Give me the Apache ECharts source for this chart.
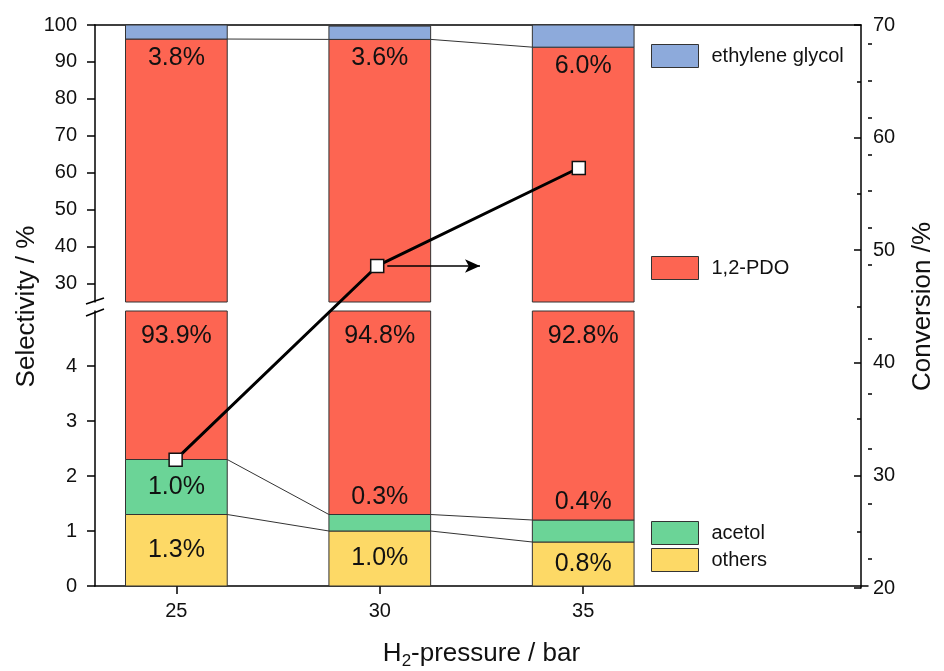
<!DOCTYPE html>
<html><head><meta charset="utf-8">
<script src="https://cdn.jsdelivr.net/npm/echarts@6/dist/echarts.min.js"></script>
<style>html,body{margin:0;padding:0;background:#fff}#c{width:944px;height:671px}</style>
</head><body><div id="c"></div>
<script>
// ---- data ----
const pressures = [25, 30, 35];
const others = [1.3, 1.0, 0.8];
const acetol = [1.0, 0.3, 0.4];
const pdo = [93.9, 94.8, 92.8];
const eg = [3.8, 3.6, 6.0];
const conversion = [31.4, 48.6, 57.3];
const upperTicks = [30, 40, 50, 60, 70, 80, 90, 100];
const upperMinor = [35, 45, 55, 65, 75, 85, 95];
const lowerTicks = [0, 1, 2, 3, 4];
const lowerMinor = [0.5, 1.5, 2.5, 3.5, 4.5];
const xTicks = [25, 30, 35];
const arrowFrom = [30.25, 48.6];
const arrowTo = [32.55, 48.6];

// ---- layout / style ----
const FONT = 'Liberation Sans, Arial, sans-serif';
const L = 95, R = 868, TOP = 25, BOT = 588, UPPER_BOT = 302, LOWER_TOP = 311;
const W = R - L;
const BAR_UNITS = 2.5;
const C = { eg: '#8DAADB', pdo: '#FD6552', acetol: '#6BD497', others: '#FDD966' };

// stacked segments built from the data arrays
const cum0 = pressures.map(() => 0);
const cum1 = others.map((v) => v);
const cum2 = others.map((v, i) => v + acetol[i]);
const cum3 = cum2.map((v, i) => v + pdo[i]);
const cum4 = cum3.map((v, i) => v + eg[i]);
const seg = (lo, hi, vals) => pressures.map((p, i) => [p, lo[i], hi[i], vals[i]]);
const pairs = (vals) => pressures.slice(0, -1).map((p, i) => [p, vals[i], pressures[i + 1], vals[i + 1]]);

function segmentRenderer(color, labelPos) {
  return function (params, api) {
    const x = api.value(0), b = api.value(1), t = api.value(2), v = api.value(3);
    const cs = params.coordSys;
    const w = api.size([BAR_UNITS, 0])[0];
    const p0 = api.coord([x, b]), p1 = api.coord([x, t]);
    const yTop = Math.max(Math.min(p0[1], p1[1]), cs.y);
    const yBot = Math.min(Math.max(p0[1], p1[1]), cs.y + cs.height);
    if (yBot - yTop <= 0) return null;
    const el = { type: 'rect', shape: { x: p0[0] - w / 2, y: yTop, width: w, height: yBot - yTop },
      style: { fill: color, stroke: '#333', lineWidth: 1 } };
    const lp = labelPos && labelPos[params.dataIndex];
    if (lp) {
      el.textContent = { style: { text: v.toFixed(1) + '%', fill: '#111', fontSize: 25, fontFamily: FONT } };
      el.textConfig = { position: lp[0], distance: lp[1] };
    }
    return el;
  };
}

function segSeries(name, data, color, xi, yi, labelPos) {
  return { type: 'custom', name, xAxisIndex: xi, yAxisIndex: yi, silent: true,
    itemStyle: { color }, encode: { x: 0, y: [1, 2] },
    renderItem: segmentRenderer(color, labelPos), data };
}

function connector(params, api) {
  const w = api.size([BAR_UNITS, 0])[0];
  const p1 = api.coord([api.value(0), api.value(1)]);
  const p2 = api.coord([api.value(2), api.value(3)]);
  return { type: 'line', shape: { x1: p1[0] + w / 2, y1: p1[1], x2: p2[0] - w / 2, y2: p2[1] },
           style: { stroke: '#333', lineWidth: 1 } };
}
function connSeries(data, xi, yi) {
  return { type: 'custom', xAxisIndex: xi, yAxisIndex: yi, renderItem: connector,
    encode: { x: [0, 2], y: [1, 3] }, data, silent: true, z: 3 };
}

const axisLineStyle = { lineStyle: { color: '#000', width: 1.5 } };
const tickLbl = { color: '#111', fontSize: 20, fontFamily: FONT };

const legendBase = { orient: 'vertical', padding: 0, itemWidth: 47, itemHeight: 23, icon: 'rect',
  selectedMode: false, itemStyle: { borderColor: '#333', borderWidth: 1 },
  textStyle: { color: '#111', fontSize: 20, fontFamily: FONT, padding: [0, 0, 0, 8] } };

const option = {
  animation: false,
  backgroundColor: '#fff',
  textStyle: { fontFamily: FONT },
  grid: [
    { left: L, width: W, top: TOP, height: UPPER_BOT - TOP },
    { left: L, width: W, top: LOWER_TOP, height: BOT - LOWER_TOP },
    { left: L, width: W, top: TOP, height: BOT - TOP }
  ],
  legend: [
    Object.assign({ data: ['ethylene glycol'], left: 651, top: 44 }, legendBase),
    Object.assign({ data: ['1,2-PDO'], left: 651, top: 256 }, legendBase),
    Object.assign({ data: ['acetol'], left: 651, top: 521 }, legendBase),
    Object.assign({ data: ['others'], left: 651, top: 548 }, legendBase)
  ],
  xAxis: [
    { type: 'value', gridIndex: 0, min: 23, max: 42, show: false },
    { type: 'value', gridIndex: 1, min: 23, max: 42,
      axisLine: Object.assign({ show: true, onZero: false }, axisLineStyle),
      axisTick: { show: true, length: 8, customValues: xTicks, lineStyle: { color: '#000', width: 1.5 } },
      axisLabel: Object.assign({ customValues: xTicks, margin: 15 }, tickLbl),
      splitLine: { show: false },
      name: '{n|H}{s|2}{n|-pressure / bar}', nameLocation: 'middle', nameGap: 52,
      nameTextStyle: { color: '#111', rich: {
        n: { fontSize: 26, fontFamily: FONT, color: '#111', lineHeight: 32 },
        s: { fontSize: 17, fontFamily: FONT, color: '#111', lineHeight: 19, verticalAlign: 'bottom' } } } },
    { type: 'value', gridIndex: 2, min: 23, max: 42, position: 'top',
      axisLine: Object.assign({ show: true, onZero: false }, axisLineStyle),
      axisTick: { show: false }, axisLabel: { show: false }, splitLine: { show: false } }
  ],
  yAxis: [
    { type: 'value', gridIndex: 0, min: 25, max: 100,
      axisLine: Object.assign({ show: true, onZero: false }, axisLineStyle),
      axisTick: { show: true, length: 8, customValues: upperTicks, lineStyle: { color: '#000', width: 1.5 } },
      axisLabel: Object.assign({ customValues: upperTicks, margin: 18 }, tickLbl),
      splitLine: { show: false } },
    { type: 'value', gridIndex: 0, min: 25, max: 100,
      axisLine: { show: false },
      axisTick: { show: true, length: 4, customValues: upperMinor, lineStyle: { color: '#000', width: 1.5 } },
      axisLabel: { show: false }, splitLine: { show: false } },
    { type: 'value', gridIndex: 1, min: 0, max: 5,
      axisLine: Object.assign({ show: true, onZero: false }, axisLineStyle),
      axisTick: { show: true, length: 8, customValues: lowerTicks, lineStyle: { color: '#000', width: 1.5 } },
      axisLabel: Object.assign({ customValues: lowerTicks, margin: 18 }, tickLbl),
      splitLine: { show: false } },
    { type: 'value', gridIndex: 1, min: 0, max: 5,
      axisLine: { show: false },
      axisTick: { show: true, length: 4, customValues: lowerMinor, lineStyle: { color: '#000', width: 1.5 } },
      axisLabel: { show: false }, splitLine: { show: false } },
    { type: 'value', gridIndex: 2, min: 20, max: 70, interval: 10, position: 'right',
      axisLine: Object.assign({ show: true, onZero: false }, axisLineStyle),
      axisTick: { show: true, inside: true, length: 7, lineStyle: { color: '#000', width: 1.5 } },
      minorTick: { show: true, splitNumber: 2, length: 4, lineStyle: { color: '#000', width: 1.5 } },
      axisLabel: Object.assign({ margin: 12 }, tickLbl),
      splitLine: { show: false },
      name: 'Conversion /%', nameLocation: 'middle', nameGap: 49,
      nameTextStyle: { color: '#111', fontSize: 26, fontFamily: FONT } },
    { type: 'value', gridIndex: 2, min: 0, max: 1, position: 'left',
      axisLine: { show: false }, axisTick: { show: false }, axisLabel: { show: false }, splitLine: { show: false },
      name: 'Selectivity / %', nameLocation: 'middle', nameGap: 55,
      nameTextStyle: { color: '#111', fontSize: 26, fontFamily: FONT } }
  ],
  series: [
    // upper segment of the broken axis
    segSeries('others', seg(cum0, cum1, others), C.others, 0, 0),
    segSeries('acetol', seg(cum1, cum2, acetol), C.acetol, 0, 0),
    segSeries('1,2-PDO', seg(cum2, cum3, pdo), C.pdo, 0, 0),
    segSeries('ethylene glycol', seg(cum3, cum4, eg), C.eg, 0, 0,
      [['bottom', 6], ['bottom', 6], ['bottom', 6]]),
    // lower segment
    segSeries('others', seg(cum0, cum1, others), C.others, 1, 2,
      [['inside', 0], ['inside', 0], ['inside', 0]]),
    segSeries('acetol', seg(cum1, cum2, acetol), C.acetol, 1, 2,
      [['inside', 0], ['top', 4], ['top', 5]]),
    segSeries('1,2-PDO', seg(cum2, cum3, pdo), C.pdo, 1, 2,
      [['insideTop', 13], ['insideTop', 13], ['insideTop', 13]]),
    segSeries('ethylene glycol', seg(cum3, cum4, eg), C.eg, 1, 2),
    // connectors between neighbouring bars
    connSeries(pairs(cum1), 1, 2),
    connSeries(pairs(cum2), 1, 2),
    connSeries(pairs(cum3), 0, 0),
    // conversion
    { type: 'line', name: 'conversion', xAxisIndex: 2, yAxisIndex: 4, z: 10,
      data: pressures.map((p, i) => [p, conversion[i]]), symbol: 'rect', symbolSize: 13,
      lineStyle: { color: '#000', width: 3 },
      itemStyle: { color: '#fff', borderColor: '#111', borderWidth: 1.5 },
      markLine: { silent: true, symbol: ['none', 'arrow'], symbolSize: [10, 15],
        lineStyle: { color: '#000', width: 1.5, type: 'solid' }, label: { show: false },
        data: [[{ coord: arrowFrom }, { coord: arrowTo }]] } }
  ],
  graphic: [
    { type: 'line', shape: { x1: L - 9, y1: UPPER_BOT + 2, x2: L + 9, y2: UPPER_BOT - 4 }, style: { stroke: '#000', lineWidth: 1.5 }, z: 100 },
    { type: 'line', shape: { x1: L - 9, y1: LOWER_TOP + 5, x2: L + 9, y2: LOWER_TOP - 2 }, style: { stroke: '#000', lineWidth: 1.5 }, z: 100 }
  ]
};

const chart = echarts.init(document.getElementById('c'), null, { renderer: 'canvas' });
chart.setOption(option);
</script>
</body></html>
